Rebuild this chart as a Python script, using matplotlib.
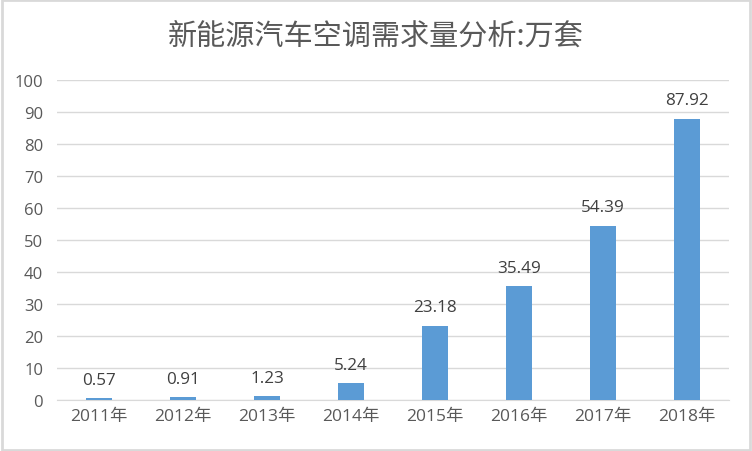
import matplotlib
matplotlib.use("Agg")
import matplotlib.pyplot as plt
from matplotlib.patches import Rectangle

plt.rcParams['font.family'] = ['Open Sans', 'Noto Sans CJK SC', 'DejaVu Sans']

categories = ["2011年", "2012年", "2013年", "2014年", "2015年", "2016年", "2017年", "2018年"]
values = [0.57, 0.91, 1.23, 5.24, 23.18, 35.49, 54.39, 87.92]
yticks = list(range(0, 101, 10))
title = "新能源汽车空调需求量分析:万套"

fig = plt.figure(figsize=(7.52, 4.52), dpi=100)
ax = fig.add_axes([57/752, 1-401/452, 672/752, 320/452])

x = range(len(categories))
bars = ax.bar(x, values, width=0.31, color="#5B9BD5", zorder=3)
for xi, v in zip(x, values):
    ax.text(xi, v + 3.3, f"{v:.2f}", ha="center", va="bottom", fontsize=12.3, color="#404040")

ax.set_xlim(-0.5, len(categories) - 0.5)
ax.set_ylim(0, 100)
ax.set_yticks(yticks)
ax.set_yticklabels([str(t) for t in yticks], fontsize=12, color="#595959")
ax.set_xticks(list(x))
ax.set_xticklabels(categories, fontsize=12.5, color="#595959")
ax.tick_params(axis="y", length=0, pad=10)
ax.tick_params(axis="x", length=0, pad=6)
ax.grid(axis="y", color="#D9D9D9", linewidth=1, zorder=0)
for s in ["top", "right", "left"]:
    ax.spines[s].set_visible(False)
ax.spines["bottom"].set_color("#D9D9D9")

fig.text(0.5, 1 - 37/452, title, ha="center", va="center", fontsize=21, color="#595959",
         family=['Noto Sans CJK SC', 'DejaVu Sans'], fontweight="light")
fig.patches.append(Rectangle((0.002, 0.002), 0.995, 0.995, transform=fig.transFigure,
                             fill=False, edgecolor="#D9D9D9", linewidth=2))
fig.savefig("out.png", dpi=100)
